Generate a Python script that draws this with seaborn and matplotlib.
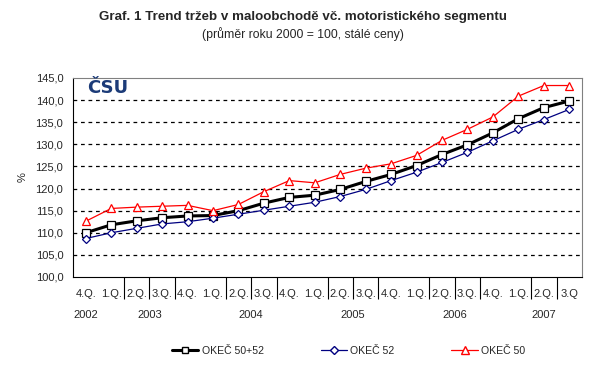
import pandas as pd
import seaborn as sns
import matplotlib.pyplot as plt
from matplotlib.lines import Line2D

quarters = ["4.Q.", "1.Q.", "2.Q.", "3.Q.", "4.Q.", "1.Q.", "2.Q.", "3.Q.", "4.Q.",
            "1.Q.", "2.Q.", "3.Q.", "4.Q.", "1.Q.", "2.Q.", "3.Q.", "4.Q.",
            "1.Q.", "2.Q.", "3.Q"]
years = ["2002", "2003", "2004", "2005", "2006", "2007"]
year_counts = [1, 4, 4, 4, 4, 3]

okec_50_52 = [110.0, 111.8, 112.7, 113.4, 113.8, 113.9, 115.0, 116.7, 118.0, 118.5,
              119.8, 121.6, 123.2, 125.2, 127.7, 129.9, 132.6, 135.8, 138.3, 139.8]
okec_52 = [108.7, 110.0, 111.0, 112.0, 112.5, 113.3, 114.2, 115.1, 116.0, 116.9,
           118.2, 119.8, 121.8, 123.7, 125.9, 128.2, 130.8, 133.4, 135.6, 137.9]
okec_50 = [112.6, 115.5, 115.8, 116.0, 116.2, 115.0, 116.4, 119.3, 121.8, 121.3,
           123.2, 124.6, 125.6, 127.5, 130.9, 133.4, 136.2, 140.9, 143.3, 143.3]

sns.set_style("white")
plt.rcParams['font.family'] = ['Liberation Sans', 'DejaVu Sans']

x = list(range(len(quarters)))
df = pd.DataFrame({"x": x, "OKEČ 50+52": okec_50_52, "OKEČ 52": okec_52, "OKEČ 50": okec_50})

fig = plt.figure(figsize=(6.04, 3.68), dpi=100)
ax = fig.add_axes([73 / 604, 1 - 277 / 368, 509 / 604, 199 / 368])

styles = [("OKEČ 50+52", "black", "s", 2.2, 5.2),
          ("OKEČ 52", "#000080", "D", 0.9, 4.0),
          ("OKEČ 50", "#ff0000", "^", 0.9, 5.8)]
for name, col, mk, lw, ms in styles:
    sns.lineplot(data=df, x="x", y=name, ax=ax, color=col, lw=lw, marker=mk,
                 markersize=ms, markerfacecolor="white", markeredgecolor=col,
                 markeredgewidth=0.9, label=name, legend=False)

ax.set_xlim(-0.5, len(quarters) - 0.5)
ax.set_ylim(100, 145)
ax.set_yticks(range(100, 146, 5))
ax.set_yticklabels([f"{v},0" for v in range(100, 146, 5)], fontsize=8)
for v in range(105, 145, 5):
    ax.axhline(v, color="black", lw=0.9, ls=(0, (3, 3)), zorder=0)

ax.spines["top"].set_color("#808080")
ax.spines["right"].set_color("#808080")
ax.spines["left"].set_color("black")
ax.spines["bottom"].set_color("black")
ax.tick_params(axis="y", direction="out", length=4, width=0.8, color="black", pad=3)

# two-level category axis
ax.set_xlabel("")
ax.set_ylabel("%", fontsize=8, labelpad=6)
bounds = [i - 0.5 for i in range(len(quarters) + 1)]
year_bounds = [-0.5]
for c in year_counts:
    year_bounds.append(year_bounds[-1] + c)
ax.set_xticks(year_bounds)
ax.set_xticks([b for b in bounds if b not in year_bounds], minor=True)
ax.set_xticklabels([])
ax.tick_params(axis="x", which="major", direction="out", length=33, width=0.8, color="black")
ax.tick_params(axis="x", which="minor", direction="out", length=16, width=0.8, color="black")
ax.tick_params(axis="x", which="minor", bottom=True)
for i, q in enumerate(quarters):
    ax.annotate(q, xy=(i, 0), xycoords=("data", "axes fraction"), xytext=(0, -12),
                textcoords="offset points", ha="center", va="center", fontsize=8)
start = 0
for y, c in zip(years, year_counts):
    ax.annotate(y, xy=(start + (c - 1) / 2, 0), xycoords=("data", "axes fraction"),
                xytext=(0, -27.5), textcoords="offset points", ha="center", va="center",
                fontsize=8)
    start += c

ax.text(0.027, 0.995, "ČSU", transform=ax.transAxes, ha="left", va="top",
        fontsize=13, fontweight="heavy", color="#1c3b78", family="DejaVu Sans")

handles = [Line2D([], [], color=col, lw=lw, marker=mk, markersize=ms * 0.9,
                  markerfacecolor="white", markeredgecolor=col, label=name)
           for name, col, mk, lw, ms in styles]
fig.legend(handles=handles, loc="center", bbox_to_anchor=(0.577, 0.047), ncol=3,
           frameon=False, fontsize=7.6, handlelength=2.5, columnspacing=5.4,
           handletextpad=0.3)

fig.text(0.502, 0.953, "Graf. 1 Trend tržeb v maloobchodě vč. motoristického segmentu",
         ha="center", va="center", fontsize=9.6, fontweight="bold")
fig.text(0.502, 0.908, "(průměr roku 2000 = 100, stálé ceny)", ha="center", va="center",
         fontsize=8.8)

fig.savefig("out.png", dpi=100)
